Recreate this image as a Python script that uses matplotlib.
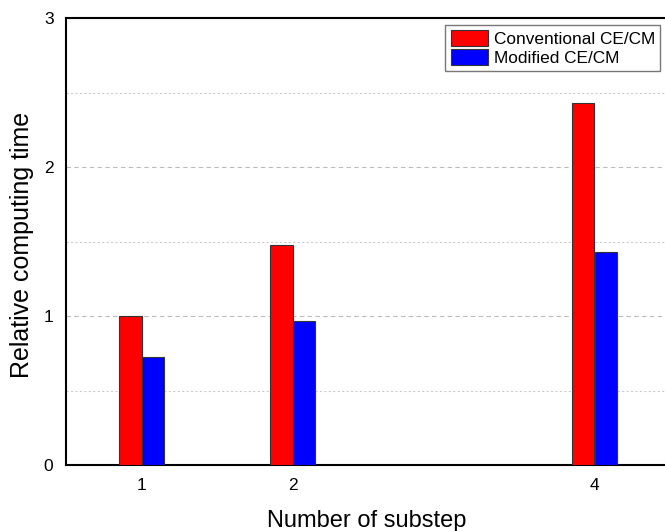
import numpy as np
import matplotlib.pyplot as plt
from matplotlib.ticker import MultipleLocator
plt.rcParams['font.family'] = ['Liberation Sans', 'DejaVu Sans']

# 数据
substeps = [1, 2, 4]
conventional = [1.0, 1.477, 2.43]
modified = [0.725, 0.965, 1.43]
labels = ['Conventional CE/CM', 'Modified CE/CM']

fig = plt.figure(figsize=(6.65, 5.31), dpi=100)
W, H = 665, 531
x0, x1 = 66, 670
y0, y1 = 465, 18
ax = fig.add_axes([x0 / W, 1 - y0 / H, (x1 - x0) / W, (y0 - y1) / H])

w = 0.15
x = np.array(substeps)
ax.bar(x - w / 2, conventional, w, color='#ff0000', edgecolor='#333333', linewidth=0.8, label=labels[0], zorder=3)
ax.bar(x + w / 2, modified, w, color='#0000ff', edgecolor='#333333', linewidth=0.8, label=labels[1], zorder=3)

ax.set_xlim(0.5, 4.5)
ax.set_ylim(0, 3)
ax.set_xticks(substeps)
ax.yaxis.set_major_locator(MultipleLocator(1))
ax.yaxis.set_minor_locator(MultipleLocator(0.5))
ax.tick_params(which='both', length=0, labelsize=12.5)
ax.tick_params(axis='y', pad=9)
ax.tick_params(axis='x', pad=9)
ax.grid(axis='y', which='major', color='#bbbbbb', linestyle=(0, (4, 3)), linewidth=0.8, zorder=0)
ax.grid(axis='y', which='minor', color='#cccccc', linestyle=(0, (2, 2)), linewidth=0.8, zorder=0)
for s in ax.spines.values():
    s.set_linewidth(1.5)

ax.set_xlabel('Number of substep', fontsize=17)
ax.xaxis.set_label_coords(367 / W, 1 - 510 / H, transform=fig.transFigure)
ax.set_ylabel('Relative computing time', fontsize=18)
ax.yaxis.set_label_coords(34 / W, 1 - 245 / H, transform=fig.transFigure)

leg = ax.legend(loc='upper right', bbox_to_anchor=(660 / W, 1 - 25 / H), bbox_transform=fig.transFigure,
                fontsize=12.4, frameon=True, fancybox=False, edgecolor='#555555',
                handlelength=2.2, handleheight=1.05, handletextpad=0.3, labelspacing=0.1,
                borderpad=0.3, borderaxespad=0)
leg.get_frame().set_linewidth(1.0)

fig.savefig('out.png', dpi=100)
